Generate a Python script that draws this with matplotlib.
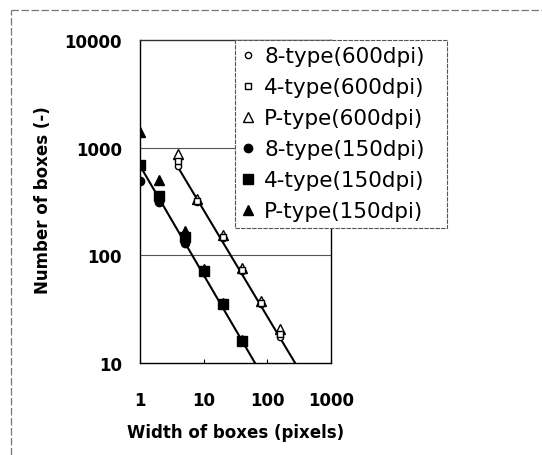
import matplotlib
matplotlib.use("Agg")
import matplotlib.pyplot as plt
from matplotlib.lines import Line2D
from matplotlib.ticker import NullLocator, FixedLocator

# ---- data ----
w150 = [1, 2, 5, 10, 20, 40]
n8_150 = [494, 313, 130, 70, 35, 16]
n4_150 = [695, 356, 148, 72, 35, 16]
nP_150 = [1400, 500, 169, 75, 36, 16.5]

w600 = [4, 8, 20, 40, 80, 160]
n8_600 = [680, 310, 145, 72, 35.5, 17.5]
n4_600 = [757, 320, 148, 73, 36, 18.5]
nP_600 = [870, 335, 155, 76, 38, 20.5]

fit150_w = [1, 64]
fit150_n = [680, 10]
fit600_w = [4, 273]
fit600_n = [650, 10]

labels = ["8-type(600dpi)", "4-type(600dpi)", "P-type(600dpi)",
          "8-type(150dpi)", "4-type(150dpi)", "P-type(150dpi)"]
xticks = [1, 10, 100, 1000]
yticks = [10, 100, 1000, 10000]

plt.rcParams['font.family'] = ['DejaVu Sans']

W, H = 542, 456
fig = plt.figure(figsize=(W / 100, H / 100), dpi=100)
ax = fig.add_axes([140 / W, 1 - 364 / H, (331 - 140) / W, (364 - 41) / H])
ax.set_xscale('log')
ax.set_yscale('log')
ax.set_xlim(1, 1000)
ax.set_ylim(10, 10000)

for yv in yticks[1:-1]:
    ax.axhline(yv, color='#555555', lw=0.8, zorder=1)

ax.plot(fit150_w, fit150_n, color='black', lw=1.5, zorder=2)
ax.plot(fit600_w, fit600_n, color='black', lw=1.5, zorder=2)

h1, = ax.plot(w600, n8_600, 'o', ms=4.5, mfc='white', mec='black', mew=1.0, ls='none', zorder=4)
h2, = ax.plot(w600, n4_600, 's', ms=5, mfc='white', mec='black', mew=1.0, ls='none', zorder=4)
h3, = ax.plot(w600, nP_600, '^', ms=6.5, mfc='white', mec='black', mew=1.0, ls='none', zorder=3)
h4, = ax.plot(w150, n8_150, 'o', ms=6, color='black', ls='none', zorder=4)
h5, = ax.plot(w150, n4_150, 's', ms=6.5, color='black', ls='none', zorder=4)
h6, = ax.plot(w150, nP_150, '^', ms=7, color='black', ls='none', zorder=3)

ax.xaxis.set_major_locator(FixedLocator(xticks))
ax.yaxis.set_major_locator(FixedLocator(yticks))
ax.xaxis.set_minor_locator(NullLocator())
ax.yaxis.set_minor_locator(NullLocator())
ax.set_xticklabels([str(v) for v in xticks])
ax.set_yticklabels([str(v) for v in yticks])
ax.tick_params(axis='x', direction='in', length=3, width=0.8, pad=20,
               labelsize=12)
ax.tick_params(axis='y', direction='in', length=0, pad=13, labelsize=12)
for lab in ax.get_xticklabels() + ax.get_yticklabels():
    lab.set_fontweight('bold')

for s in ax.spines.values():
    s.set_color('black')
    s.set_linewidth(1.0)
ax.spines['top'].set_color('#333333')

leg = ax.legend([h1, h2, h3, h4, h5, h6], labels,
                loc='upper left',
                bbox_to_anchor=(235 / W, 1 - 226 / H, 212 / W, 185 / H),
                bbox_transform=fig.transFigure, borderaxespad=0,
                mode='expand',
                fontsize=15.5, frameon=True, fancybox=False,
                handlelength=0.6, handletextpad=0.45, borderpad=0.3,
                labelspacing=0.51, markerscale=1.0)
fr = leg.get_frame()
fr.set_edgecolor('#555555')
fr.set_linewidth(0.8)
fr.set_linestyle((0, (4, 1)))
fr.set_facecolor('white')
fr.set_alpha(1)
leg.set_zorder(10)

fig.text(236 / W, 1 - 433 / H, "Width of boxes (pixels)", ha='center',
         va='center', fontsize=12, fontweight='bold')
fig.text(43 / W, 1 - 200 / H, "Number of boxes (-)", ha='center',
         va='center', rotation=90, fontsize=12, fontweight='bold')

# outer dashed border (top and left)
fig.add_artist(Line2D([11 / W, 1], [1 - 11 / H, 1 - 11 / H],
                      transform=fig.transFigure, color='#777777', lw=0.9,
                      ls=(0, (6, 2))))
fig.add_artist(Line2D([11 / W, 11 / W], [0, 1 - 11 / H],
                      transform=fig.transFigure, color='#777777', lw=0.9,
                      ls=(0, (6, 2))))

fig.savefig("out.png", dpi=100)
